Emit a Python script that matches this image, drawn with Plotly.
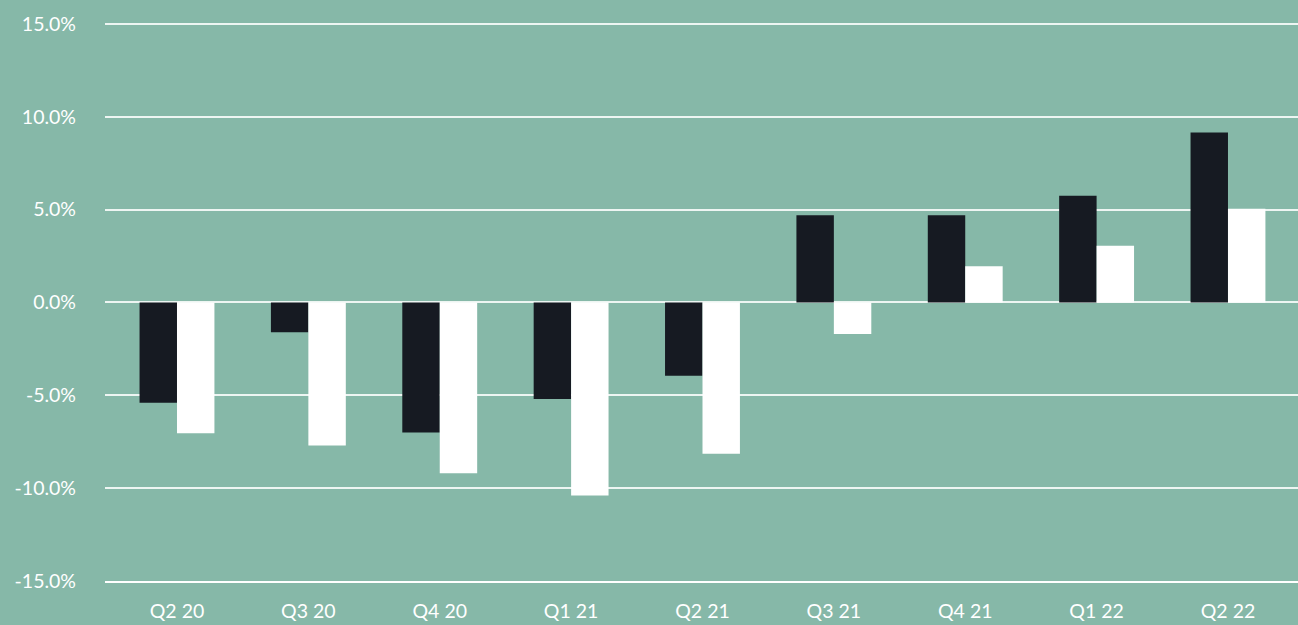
import plotly.graph_objects as go

categories = ["Q2 20", "Q3 20", "Q4 20", "Q1 21", "Q2 21", "Q3 21", "Q4 21", "Q1 22", "Q2 22"]
series_dark = [-5.4, -1.6, -7.0, -5.2, -3.95, 4.7, 4.7, 5.75, 9.15]
series_white = [-7.05, -7.7, -9.2, -10.4, -8.15, -1.7, 1.95, 3.05, 5.05]
y_ticks = [-15, -10, -5, 0, 5, 10, 15]
y_tick_labels = ["-15.0%", "-10.0%", "-5.0%", "0.0%", "5.0%", "10.0%", "15.0%"]

BG = "#86B8A8"
FONT = "Lato, 'Open Sans', sans-serif"
FS = 19.5

fig = go.Figure()
fig.add_trace(go.Bar(x=list(range(len(categories))), y=series_dark,
                     marker=dict(color="#161A22", line=dict(width=0)), name="A"))
fig.add_trace(go.Bar(x=list(range(len(categories))), y=series_white,
                     marker=dict(color="#FFFFFF", line=dict(width=0)), name="B"))

fig.update_layout(
    width=1298, height=625,
    margin=dict(l=105, r=0, t=22, b=44),
    paper_bgcolor=BG, plot_bgcolor=BG,
    barmode="group", bargap=0.43, bargroupgap=0,
    showlegend=False,
    font=dict(family=FONT, color="white", size=FS),
)
fig.update_xaxes(
    range=[-0.548, 8.533],
    tickmode="array", tickvals=list(range(len(categories))), ticktext=categories,
    showgrid=False, zeroline=False,
    showline=True, linecolor="white", linewidth=2,
    ticks="", ticklabelstandoff=12,
    tickfont=dict(family=FONT, color="white", size=FS),
)
fig.update_yaxes(
    range=[-15, 15.1],
    tickmode="array", tickvals=y_ticks, ticktext=y_tick_labels,
    showgrid=True, gridcolor="rgba(255,255,255,0.85)", gridwidth=1.5,
    zeroline=False, showline=False, ticks="",
    ticklabelstandoff=28,
    tickfont=dict(family=FONT, color="white", size=FS),
)

fig.write_html("out.html")
